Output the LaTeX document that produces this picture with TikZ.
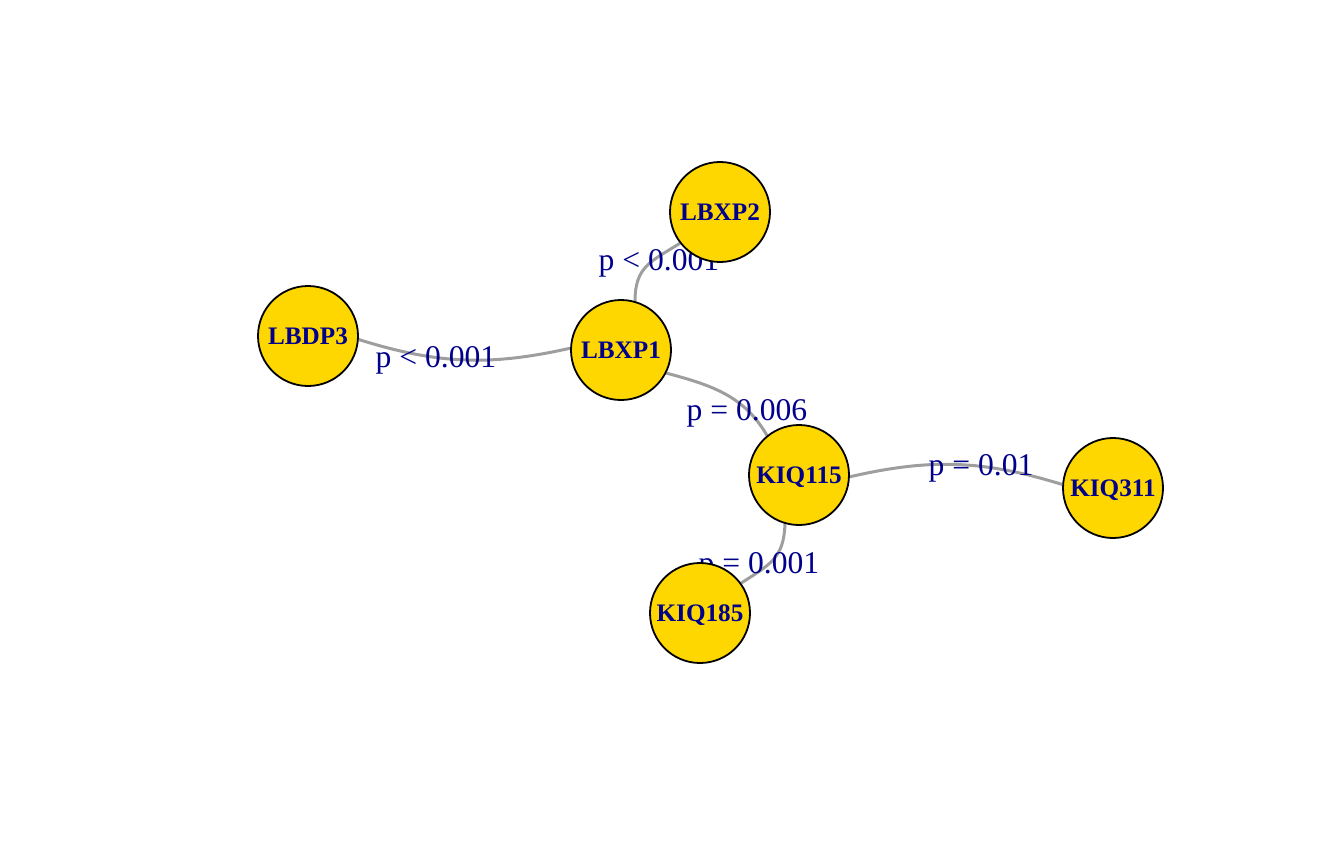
\documentclass[tikz,border=0pt]{standalone}
\usepackage{fontspec}
\setmainfont{Liberation Serif}
\definecolor{vgold}{HTML}{FFD700}
\definecolor{vtext}{HTML}{00008B}
\definecolor{egray}{HTML}{9E9E9E}
\pgfdeclarelayer{edges}
\pgfdeclarelayer{elabels}
\pgfsetlayers{edges,elabels,main}
\tikzset{
  vertex/.style={circle, draw=black, line width=0.9pt, fill=vgold, minimum size=50pt, inner sep=0pt,
    text=vtext, font=\fontsize{12.6}{14}\selectfont\bfseries, text height=8.5pt, text depth=0pt},
  edge/.style={draw=egray, line width=1.5pt},
  elabel/.style={text=vtext, font=\fontsize{15.8}{18}\selectfont, anchor=base, inner sep=0pt}
}
\begin{document}
\begin{tikzpicture}[x=0.5pt, y=0.5pt]
\useasboundingbox (0,0) rectangle (1344,864);
% vertices
\node[vertex] (LBXP2) at (720,652) {LBXP2};
\node[vertex] (LBDP3) at (308,528) {LBDP3};
\node[vertex] (LBXP1) at (621,514) {LBXP1};
\node[vertex] (KIQ115) at (799,389) {KIQ115};
\node[vertex] (KIQ311) at (1113,376) {KIQ311};
\node[vertex] (KIQ185) at (700,251) {KIQ185};
% edges
\begin{pgfonlayer}{edges}
\draw[edge] (LBDP3.-4) to[bend right=15] (LBXP1.178);
\draw[edge] (LBXP1.74) to[out=90, in=212, looseness=1.2] (LBXP2.218);
\draw[edge] (LBXP1.-27) to[out=-15, in=120] (KIQ115.129);
\draw[edge] (KIQ115.-2) to[bend left=15] (KIQ311.176);
\draw[edge] (KIQ115.-106) to[out=-92, in=33, looseness=1.2] (KIQ185.36);
\end{pgfonlayer}
% edge labels
\begin{pgfonlayer}{elabels}
\node[elabel] (l1) at (436,497) {p < 0.001};
\node[elabel] (l2) at (659,594) {p < 0.001};
\node[elabel] (l3) at (747,444) {p = 0.006};
\node[elabel] (l4) at (981,389) {p = 0.01};
\node[elabel] (l5) at (759,291) {p = 0.001};
\end{pgfonlayer}
\end{tikzpicture}
\end{document}
